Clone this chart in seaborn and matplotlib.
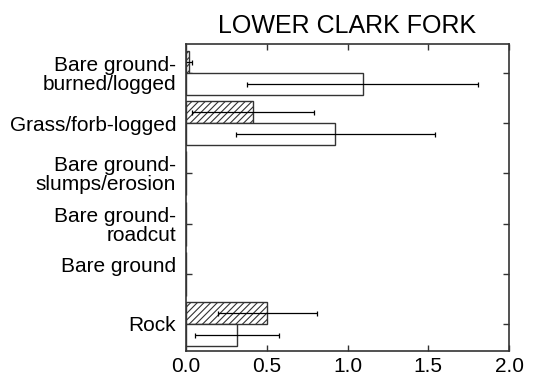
import matplotlib
matplotlib.use("Agg")
import matplotlib.pyplot as plt
import matplotlib.transforms as mtransforms
import numpy as np
import pandas as pd
import seaborn as sns

categories = ["Bare ground-\nburned/logged", "Grass/forb-logged", "Bare ground-\nslumps/erosion",
              "Bare ground-\nroadcut", "Bare ground", "Rock"]
series_names = ["hatched", "open"]
hatched_values = [0.016, 0.415, 0.0, 0.0, 0.0, 0.504]
hatched_errors = [0.022, 0.375, 0.0, 0.0, 0.0, 0.305]
open_values = [1.094, 0.924, 0.0, 0.0, 0.0, 0.315]
open_errors = [0.716, 0.615, 0.0, 0.0, 0.0, 0.262]
x_ticks = [0.0, 0.5, 1.0, 1.5, 2.0]
title = "LOWER CLARK FORK"

df = pd.DataFrame({
    "category": categories * 2,
    "series": [series_names[0]] * len(categories) + [series_names[1]] * len(categories),
    "value": hatched_values + open_values,
    "err": hatched_errors + open_errors,
})

sns.set_style("ticks")
plt.rcParams["font.family"] = ["Liberation Sans", "DejaVu Sans"]
plt.rcParams["text.color"] = "black"
plt.rcParams["hatch.linewidth"] = 0.8
plt.rcParams["hatch.color"] = "#222222"

fig = plt.figure(figsize=(5.37, 3.79), dpi=100)
ax = fig.add_axes([186 / 537, 1 - 351 / 379, (509 - 186) / 537, (351 - 44) / 379])

sns.barplot(data=df, y="category", x="value", hue="series", order=categories,
            hue_order=series_names, orient="h", errorbar=None, width=0.88,
            palette=["white", "white"], edgecolor="#333333", linewidth=1.0,
            legend=False, ax=ax, saturation=1)

for container, name in zip(ax.containers, series_names):
    sub = df[df["series"] == name].set_index("category").loc[categories]
    for patch, (_, row) in zip(container.patches, sub.iterrows()):
        if name == "hatched":
            patch.set_hatch("/////")
        if row["value"] > 0:
            yc = patch.get_y() + patch.get_height() / 2
            ax.errorbar(row["value"], yc, xerr=row["err"], fmt="none",
                        ecolor="black", elinewidth=0.9, capsize=1.8, capthick=0.9)

ax.set_xlim(0, 2.0)
ax.set_ylim(5.54, -0.58)
ax.set_xticks(x_ticks)
ax.set_xticklabels([f"{t:.1f}" for t in x_ticks], fontsize=15)
ax.set_yticks(range(len(categories)))
ax.set_yticklabels(categories, fontsize=15, linespacing=1.0)
ax.set_xlabel("")
ax.set_ylabel("")
ax.tick_params(direction="in", length=4, width=1, top=True, right=True, colors="#333333",
               labelcolor="black", pad=4)
ax.tick_params(axis="y", pad=7)
for s in ax.spines.values():
    s.set_visible(True)
    s.set_linewidth(1.2)
    s.set_color("#333333")

# shift "Bare ground" label slightly upward, as in the reference
lab = ax.get_yticklabels()[4]
lab.set_transform(lab.get_transform() + mtransforms.ScaledTranslation(0, 9 / 100, fig.dpi_scale_trans))

ax.set_title(title, fontsize=18, pad=8, color="black")

fig.savefig("out.png", dpi=100)
